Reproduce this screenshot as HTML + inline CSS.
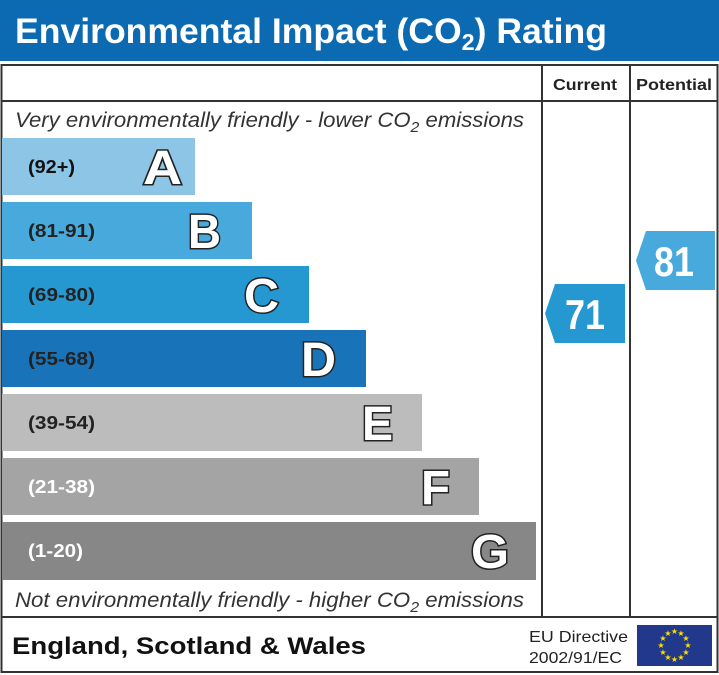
<!DOCTYPE html>
<html><head><meta charset="utf-8"><style>
html,body{margin:0;padding:0;background:#fff;}
svg{display:block;}
.L{paint-order:stroke fill;}
</style></head><body>
<svg width="719" height="675" viewBox="0 0 719 675" xmlns="http://www.w3.org/2000/svg" font-family="Liberation Sans, sans-serif">
<rect x="0" y="0" width="719" height="61" fill="#0b6ab1"/>
<text x="15" y="43" font-size="35" font-weight="bold" fill="#fff" textLength="592" lengthAdjust="spacingAndGlyphs">Environmental Impact (CO<tspan font-size="23" dy="7">2</tspan><tspan dy="-7">) Rating</tspan></text>
<rect x="1.5" y="65" width="716" height="607" fill="none" stroke="#333" stroke-width="2"/>
<line x1="1" y1="101" x2="718" y2="101" stroke="#333" stroke-width="2"/>
<line x1="542" y1="65" x2="542" y2="617" stroke="#333" stroke-width="2"/>
<line x1="630" y1="65" x2="630" y2="617" stroke="#333" stroke-width="2"/>
<line x1="1" y1="617" x2="718" y2="617" stroke="#333" stroke-width="2"/>
<text x="553" y="90" font-size="16" font-weight="bold" fill="#222" textLength="64" lengthAdjust="spacingAndGlyphs">Current</text>
<text x="636" y="90" font-size="16" font-weight="bold" fill="#222" textLength="76" lengthAdjust="spacingAndGlyphs">Potential</text>
<text x="15" y="127" font-size="21" font-style="italic" fill="#333" textLength="509" lengthAdjust="spacingAndGlyphs">Very environmentally friendly - lower CO<tspan font-size="15" dy="5">2</tspan><tspan dy="-5"> emissions</tspan></text>
<text x="15" y="607" font-size="21" font-style="italic" fill="#333" textLength="509" lengthAdjust="spacingAndGlyphs">Not environmentally friendly - higher CO<tspan font-size="15" dy="5">2</tspan><tspan dy="-5"> emissions</tspan></text>
<g font-weight="bold">
<rect x="2" y="138" width="193" height="57" fill="#8cc5e6"/>
<text x="28" y="173" font-size="18" fill="#111" textLength="47" lengthAdjust="spacingAndGlyphs">(92+)</text>
<text class="L" x="143" y="184" font-size="48" fill="#fff" stroke="#222" stroke-width="3" textLength="39" lengthAdjust="spacingAndGlyphs">A</text>
<rect x="2" y="202" width="250" height="57" fill="#48aadc"/>
<text x="28" y="237" font-size="18" fill="#222" textLength="67" lengthAdjust="spacingAndGlyphs">(81-91)</text>
<text class="L" x="188" y="248" font-size="48" fill="#fff" stroke="#222" stroke-width="3" textLength="33" lengthAdjust="spacingAndGlyphs">B</text>
<rect x="2" y="266" width="307" height="57" fill="#2598d2"/>
<text x="28" y="301" font-size="18" fill="#222" textLength="67" lengthAdjust="spacingAndGlyphs">(69-80)</text>
<text class="L" x="244" y="312" font-size="48" fill="#fff" stroke="#222" stroke-width="3" textLength="35" lengthAdjust="spacingAndGlyphs">C</text>
<rect x="2" y="330" width="364" height="57" fill="#1873b8"/>
<text x="28" y="365" font-size="18" fill="#222" textLength="67" lengthAdjust="spacingAndGlyphs">(55-68)</text>
<text class="L" x="301" y="376" font-size="48" fill="#fff" stroke="#222" stroke-width="3" textLength="35" lengthAdjust="spacingAndGlyphs">D</text>
<rect x="2" y="394" width="420" height="57" fill="#bcbcbc"/>
<text x="28" y="429" font-size="18" fill="#222" textLength="67" lengthAdjust="spacingAndGlyphs">(39-54)</text>
<text class="L" x="362" y="440" font-size="48" fill="#fff" stroke="#222" stroke-width="3" textLength="31" lengthAdjust="spacingAndGlyphs">E</text>
<rect x="2" y="458" width="477" height="57" fill="#a4a4a4"/>
<text x="28" y="493" font-size="18" fill="#fff" textLength="67" lengthAdjust="spacingAndGlyphs">(21-38)</text>
<text class="L" x="421" y="504" font-size="48" fill="#fff" stroke="#222" stroke-width="3" textLength="29" lengthAdjust="spacingAndGlyphs">F</text>
<rect x="2" y="522" width="534" height="58" fill="#878787"/>
<text x="28" y="557" font-size="18" fill="#fff" textLength="55" lengthAdjust="spacingAndGlyphs">(1-20)</text>
<text class="L" x="471" y="568" font-size="48" fill="#fff" stroke="#222" stroke-width="3" textLength="38" lengthAdjust="spacingAndGlyphs">G</text>
<polygon points="555,284 625,284 625,343 555,343 545,313.5" fill="#2598d2"/>
<text x="565" y="329" font-size="42" fill="#fff" textLength="40" lengthAdjust="spacingAndGlyphs">71</text>
<polygon points="646,231 715,231 715,290 646,290 636,260.5" fill="#48aadc"/>
<text x="654" y="276" font-size="42" fill="#fff" textLength="40" lengthAdjust="spacingAndGlyphs">81</text>
<text x="12" y="654" font-size="24" fill="#111" textLength="354" lengthAdjust="spacingAndGlyphs">England, Scotland &amp; Wales</text>
</g>
<text x="529" y="642" font-size="16" fill="#222" textLength="99" lengthAdjust="spacingAndGlyphs">EU Directive</text>
<text x="529" y="663" font-size="16" fill="#222" textLength="93" lengthAdjust="spacingAndGlyphs">2002/91/EC</text>
<rect x="637" y="625" width="75" height="41" fill="#22398b"/>
<g fill="#ffdd00" font-size="8" text-anchor="middle">
<text x="674.5" y="634">★</text><text x="681" y="636">★</text><text x="686" y="641">★</text><text x="688" y="648">★</text><text x="686" y="655">★</text><text x="681" y="660">★</text><text x="674.5" y="662">★</text><text x="668" y="660">★</text><text x="663" y="655">★</text><text x="661" y="648">★</text><text x="663" y="641">★</text><text x="668" y="636">★</text>
</g>
</svg>
</body></html>
